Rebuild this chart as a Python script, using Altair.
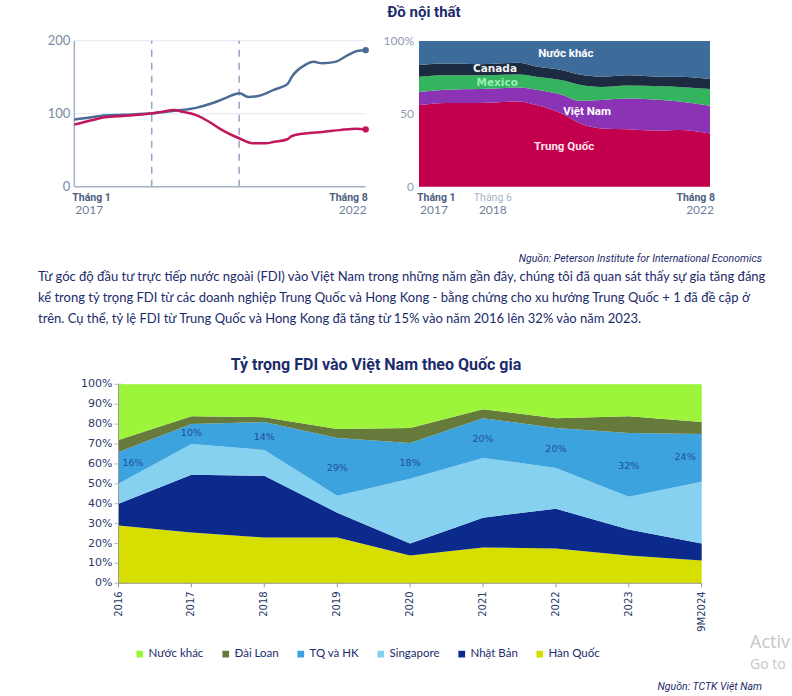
import altair as alt
import pandas as pd

# ---------------- top-left: index (Tháng 1/2017 = month 0 ... Tháng 8/2022 = month 67)
blue_months = [0, 4, 6, 11, 18, 23, 28, 32, 35, 38, 40, 42, 46, 49, 50, 53, 55, 57, 60, 63, 65, 67]
blue_values = [92, 95, 97, 98.5, 100.5, 104, 108, 115, 122, 128, 123, 124, 133, 140.5, 150.5, 166.5, 171, 169, 171, 180.5, 186, 187]
red_months = [0, 4, 7, 11, 15, 18, 20, 23, 25, 28, 31, 34, 38, 41, 44, 46, 49, 50, 53, 57, 61, 65, 67]
red_values = [85, 91, 95, 97, 98.5, 100.5, 102.5, 105, 102.5, 98, 89, 77.5, 66, 59.5, 59.5, 61.5, 65, 69.5, 73, 75, 77.5, 79.5, 78.5]
event_months = [17.8, 37.9]
tl_y_ticks = [0, 100, 200]
tl_x_months = [0, 67]
tl_x_month_labels = ["Tháng 1", "Tháng 8"]
tl_x_year_labels = ["2017", "2022"]

# ---------------- top-right: import shares (%)
tr_months = [0, 6, 14, 23, 27, 33, 37, 42, 48, 56, 60, 67]
tr_series = ["Trung Quốc", "Việt Nam", "Mexico", "Canada", "Nước khác"]
tr_trung_quoc = [56, 57.5, 57.5, 58.5, 56, 50, 43.5, 40, 39.5, 38.5, 39, 36.5]
tr_viet_nam = [9, 9, 9.5, 9.5, 10.5, 13, 15.5, 19.5, 21, 21, 19.5, 19]
tr_mexico = [10.5, 10, 9.5, 9, 9, 10, 11, 9, 9, 9.5, 10, 11.5]
tr_canada = [8, 8, 7.5, 8, 7, 7, 7, 7, 7, 6.5, 7, 7]
tr_khac = [16.5, 15.5, 16, 15, 17.5, 20, 23, 24.5, 23.5, 24.5, 24.5, 26]
tr_colors = ["#c2004d", "#8a33b5", "#34b45e", "#1c2b3f", "#3e6c9a"]
tr_y_ticks = [0, 50, 100]
tr_y_labels = ["0", "50", "100%"]
tr_x_months = [0, 17, 67]
tr_x_month_labels = ["Tháng 1", "Tháng 6", "Tháng 8"]
tr_x_year_labels = ["2017", "2018", "2022"]
tr_ann_text = ["Nước khác", "Canada", "Mexico", "Việt Nam", "Trung Quốc"]
tr_ann_month = [33.8, 17.5, 18, 38.7, 33.4]
tr_ann_pct = [91, 80.5, 71.2, 51.6, 27]
tr_ann_color = ["#ffffff", "#f2f2f2", "#9af0b4", "#ffffff", "#ffe3ec"]

# ---------------- bottom: FDI share by country (%)
years = ["2016", "2017", "2018", "2019", "2020", "2021", "2022", "2023", "9M2024"]
han_quoc = [29, 25.5, 23, 23, 14, 18, 17.5, 14, 11.5]
nhat_ban = [11, 29, 31, 12.5, 6, 15, 20, 13, 8.5]
singapore = [10, 15.5, 13, 8.5, 32.5, 30, 20.5, 16.5, 31]
tq_hk = [16, 10, 14, 29, 18, 20, 20, 32, 24]
dai_loan = [6, 4, 2.5, 4.5, 7.5, 4.5, 5, 8.5, 6]
nuoc_khac = [28, 16, 16.5, 22.5, 22, 12.5, 17, 16, 19]
legend_order = ["Nước khác", "Đài Loan", "TQ và HK", "Singapore", "Nhật Bản", "Hàn Quốc"]
legend_colors = ["#9cf43b", "#667a3c", "#3da3de", "#86d0f0", "#0b2a8c", "#d6de02"]
tq_label_text = ["16%", "10%", "14%", "29%", "18%", "20%", "20%", "32%", "24%"]
tq_label_pos = [60.3, 75.4, 73.4, 58.1, 60.6, 72.5, 67.6, 59.1, 63.3]
b_y_ticks = list(range(0, 101, 10))

# ---------------- page text
title_top = "Đồ nội thất"
source_top = "Nguồn: Peterson Institute for International Economics"
paragraph = [
    "Từ góc độ đầu tư trực tiếp nước ngoài (FDI) vào Việt Nam trong những năm gần đây, chúng tôi đã quan sát thấy sự gia tăng đáng",
    "kể trong tỷ trọng FDI từ các doanh nghiệp Trung Quốc và Hong Kong - bằng chứng cho xu hướng Trung Quốc + 1 đã đề cập ở",
    "trên. Cụ thể, tỷ lệ FDI từ Trung Quốc và Hong Kong đã tăng từ 15% vào năm 2016 lên 32% vào năm 2023.",
]
title_bottom = "Tỷ trọng FDI vào Việt Nam theo Quốc gia"
source_bottom = "Nguồn: TCTK Việt Nam"
watermark = ["Activ", "Go to"]

NARROW = "Roboto"
NAVY = "#1b2b6b"

# ======================= TOP-LEFT =======================
xs_tl = alt.Scale(domain=[0, 67], range=[74.3, 365.7])
ys_tl = alt.Scale(domain=[0, 200], range=[186.7, 40.7])

def X_tl(f):
    return alt.X(f, scale=xs_tl, axis=None)

def Y_tl(f):
    return alt.Y(f, scale=ys_tl, axis=None)

grid_tl = pd.DataFrame({"v": tl_y_ticks[1:], "a": 0, "b": 67})
tl_grid = alt.Chart(grid_tl).mark_rule(color="#e4e9f0", strokeWidth=1).encode(
    x=X_tl("a:Q"), x2="b:Q", y=Y_tl("v:Q"))
yax_tl = pd.DataFrame({"a": [0], "lo": [0], "hi": [200]})
tl_yaxis = alt.Chart(yax_tl).mark_rule(color="#a3b1c5", strokeWidth=1.5).encode(
    x=X_tl("a:Q"), y=Y_tl("lo:Q"), y2="hi:Q")
xax_tl = pd.DataFrame({"a": [0], "b": [67], "v": [0]})
tl_xaxis = alt.Chart(xax_tl).mark_rule(color="#a3b1c5", strokeWidth=1.5).encode(
    x=X_tl("a:Q"), x2="b:Q", y=Y_tl("v:Q"))
ev_tl = pd.DataFrame({"m": event_months, "lo": 0, "hi": 200})
tl_events = alt.Chart(ev_tl).mark_rule(color="#93a6c0", strokeWidth=1.5, strokeDash=[7, 6]).encode(
    x=X_tl("m:Q"), y=Y_tl("lo:Q"), y2="hi:Q")
blue_df = pd.DataFrame({"m": blue_months, "v": blue_values})
red_df = pd.DataFrame({"m": red_months, "v": red_values})
tl_blue = alt.Chart(blue_df).mark_line(color="#4a6b94", strokeWidth=2.5, interpolate="monotone").encode(
    x=X_tl("m:Q"), y=Y_tl("v:Q"))
tl_red = alt.Chart(red_df).mark_line(color="#c2185b", strokeWidth=2.5, interpolate="monotone").encode(
    x=X_tl("m:Q"), y=Y_tl("v:Q"))
tl_blue_end = alt.Chart(blue_df.tail(1)).mark_circle(color="#4a6b94", size=40, opacity=1).encode(
    x=X_tl("m:Q"), y=Y_tl("v:Q"))
tl_red_end = alt.Chart(red_df.tail(1)).mark_circle(color="#c2185b", size=40, opacity=1).encode(
    x=X_tl("m:Q"), y=Y_tl("v:Q"))
ylab_tl = pd.DataFrame({"v": tl_y_ticks, "a": 0, "t": [str(t) for t in tl_y_ticks]})
tl_ylabels = alt.Chart(ylab_tl).mark_text(align="right", baseline="middle", dx=-4, font="Lato",
                                          fontSize=13, color="#7a8aa3").encode(
    x=X_tl("a:Q"), y=Y_tl("v:Q"), text="t:N")
xlab_tl = pd.DataFrame({"m": tl_x_months, "t1": tl_x_month_labels, "t2": tl_x_year_labels, "v": 0})
MONTH_KW = dict(baseline="middle", dy=11, font=NARROW, fontSize=10.5, fontWeight="bold", color="#4d6080")
YEAR_KW = dict(baseline="middle", dy=23.5, font="Lato", fontSize=12, color="#6f7f99")
tl_xl1a = alt.Chart(xlab_tl.head(1)).mark_text(align="left", dx=-2, **MONTH_KW).encode(
    x=X_tl("m:Q"), y=Y_tl("v:Q"), text="t1:N")
tl_xl1b = alt.Chart(xlab_tl.tail(1)).mark_text(align="right", dx=2, **MONTH_KW).encode(
    x=X_tl("m:Q"), y=Y_tl("v:Q"), text="t1:N")
tl_xl2a = alt.Chart(xlab_tl.head(1)).mark_text(align="left", dx=1, **YEAR_KW).encode(
    x=X_tl("m:Q"), y=Y_tl("v:Q"), text="t2:N")
tl_xl2b = alt.Chart(xlab_tl.tail(1)).mark_text(align="right", dx=1, **YEAR_KW).encode(
    x=X_tl("m:Q"), y=Y_tl("v:Q"), text="t2:N")
top_left = alt.layer(tl_grid, tl_events, tl_yaxis, tl_xaxis, tl_blue, tl_red, tl_blue_end, tl_red_end,
                     tl_ylabels, tl_xl1a, tl_xl1b, tl_xl2a, tl_xl2b)

# ======================= TOP-RIGHT =======================
xs_tr = alt.Scale(domain=[0, 67], range=[419, 710])
ys_tr = alt.Scale(domain=[0, 100], range=[186.7, 41])

def X_tr(f):
    return alt.X(f, scale=xs_tr, axis=None)

def Y_tr(f):
    return alt.Y(f, scale=ys_tr, axis=None)

tr_vals = [tr_trung_quoc, tr_viet_nam, tr_mexico, tr_canada, tr_khac]
rows = []
for k, (name, vals) in enumerate(zip(tr_series, tr_vals)):
    for m, v in zip(tr_months, vals):
        rows.append({"m": m, "series": name, "v": v, "k": k})
tr_df = pd.DataFrame(rows)
tr_area = alt.Chart(tr_df).mark_area(interpolate="monotone", opacity=1).encode(
    x=X_tr("m:Q"),
    y=alt.Y("v:Q", stack="zero", scale=ys_tr, axis=None),
    color=alt.Color("series:N", scale=alt.Scale(domain=tr_series, range=tr_colors), legend=None),
    order=alt.Order("k:Q", sort="ascending"),
)
ann_df = pd.DataFrame({"m": tr_ann_month, "p": tr_ann_pct, "t": tr_ann_text, "c": tr_ann_color})
tr_ann_narrow = alt.Chart(ann_df.iloc[[0, 3, 4]]).mark_text(font=NARROW, fontSize=11.5, fontWeight="bold").encode(
    x=X_tr("m:Q"), y=Y_tr("p:Q"), text="t:N", color=alt.Color("c:N", scale=None))
tr_ann_wide = alt.Chart(ann_df.iloc[[1, 2]]).mark_text(font="DejaVu Sans", fontSize=10.5, fontWeight="bold").encode(
    x=X_tr("m:Q"), y=Y_tr("p:Q"), text="t:N", color=alt.Color("c:N", scale=None))
ylab_tr = pd.DataFrame({"v": tr_y_ticks, "a": 0, "t": tr_y_labels})
tr_ylabels = alt.Chart(ylab_tr).mark_text(align="right", baseline="middle", dx=-5, font="Lato",
                                          fontSize=12, color="#8d9bb0").encode(
    x=X_tr("a:Q"), y=Y_tr("v:Q"), text="t:N")
xlab_tr = pd.DataFrame({"m": tr_x_months, "t1": tr_x_month_labels, "t2": tr_x_year_labels, "v": 0})
tr_xl1a = alt.Chart(xlab_tr.iloc[[0]]).mark_text(align="left", dx=-2, **MONTH_KW).encode(
    x=X_tr("m:Q"), y=Y_tr("v:Q"), text="t1:N")
tr_xl1m = alt.Chart(xlab_tr.iloc[[1]]).mark_text(
    align="center", baseline="middle", dy=11, font=NARROW, fontSize=10.5, color="#a7b3c5").encode(
    x=X_tr("m:Q"), y=Y_tr("v:Q"), text="t1:N")
tr_xl1b = alt.Chart(xlab_tr.iloc[[2]]).mark_text(align="right", dx=5, **MONTH_KW).encode(
    x=X_tr("m:Q"), y=Y_tr("v:Q"), text="t1:N")
tr_xl2a = alt.Chart(xlab_tr.iloc[[0]]).mark_text(align="left", dx=1, **YEAR_KW).encode(
    x=X_tr("m:Q"), y=Y_tr("v:Q"), text="t2:N")
tr_xl2m = alt.Chart(xlab_tr.iloc[[1]]).mark_text(align="center", **YEAR_KW).encode(
    x=X_tr("m:Q"), y=Y_tr("v:Q"), text="t2:N")
tr_xl2b = alt.Chart(xlab_tr.iloc[[2]]).mark_text(align="right", dx=4, **YEAR_KW).encode(
    x=X_tr("m:Q"), y=Y_tr("v:Q"), text="t2:N")
top_right = alt.layer(tr_area, tr_ann_narrow, tr_ann_wide, tr_ylabels,
                      tr_xl1a, tr_xl1m, tr_xl1b, tr_xl2a, tr_xl2m, tr_xl2b)

# ======================= BOTTOM =======================
xs_b = alt.Scale(type="point", domain=years, range=[118.5, 701.7], padding=0)
ys_b = alt.Scale(domain=[0, 100], range=[583.3, 384.3])

def X_b(f):
    return alt.X(f, scale=xs_b, sort=years, axis=None)

def Y_b(f):
    return alt.Y(f, scale=ys_b, axis=None)

stack_order = ["Hàn Quốc", "Nhật Bản", "Singapore", "TQ và HK", "Đài Loan", "Nước khác"]
series_vals = {"Hàn Quốc": han_quoc, "Nhật Bản": nhat_ban, "Singapore": singapore,
               "TQ và HK": tq_hk, "Đài Loan": dai_loan, "Nước khác": nuoc_khac}
rows = []
for k, name in enumerate(stack_order):
    for y, v in zip(years, series_vals[name]):
        rows.append({"year": y, "series": name, "v": v, "k": k})
b_df = pd.DataFrame(rows)
AX_FONT = "DejaVu Sans"
AX_COLOR = "#2a3a6a"
LINE_COLOR = "#9a9a9a"

ytick_df = pd.DataFrame({"year": years[0], "v": b_y_ticks, "t": [f"{t}%" for t in b_y_ticks]})
b_yticks = alt.Chart(ytick_df).mark_tick(color=LINE_COLOR, size=8, thickness=1).encode(
    x=X_b("year:O"), y=Y_b("v:Q"))
b_area = alt.Chart(b_df).mark_area(opacity=1).encode(
    x=X_b("year:O"),
    y=alt.Y("v:Q", stack="zero", scale=ys_b, axis=None),
    color=alt.Color("series:N", scale=alt.Scale(domain=legend_order, range=legend_colors),
                    legend=alt.Legend(orient="none", legendX=134, legendY=648, direction="horizontal",
                                      title=None, symbolType="square", symbolSize=45, symbolStrokeWidth=0,
                                      labelFont="Lato", labelFontSize=11.5, labelColor=NAVY,
                                      columnPadding=16, labelOffset=3)),
    order=alt.Order("k:Q", sort="ascending"),
)
yaxis_df = pd.DataFrame({"year": [years[0]], "lo": [0], "hi": [100]})
b_yaxis = alt.Chart(yaxis_df).mark_rule(color=LINE_COLOR, strokeWidth=1).encode(
    x=X_b("year:O"), y=Y_b("lo:Q"), y2="hi:Q")
xaxis_df = pd.DataFrame({"a": [years[0]], "b": [years[-1]], "v": [0]})
b_xaxis = alt.Chart(xaxis_df).mark_rule(color=LINE_COLOR, strokeWidth=1).encode(
    x=X_b("a:O"), x2="b:O", y=Y_b("v:Q"))
xtick_df = pd.DataFrame({"year": years, "lo": 0, "hi": -2})
b_xticks = alt.Chart(xtick_df).mark_rule(color=LINE_COLOR, strokeWidth=1).encode(
    x=X_b("year:O"), y=Y_b("lo:Q"), y2="hi:Q")
b_ylabels = alt.Chart(ytick_df).mark_text(align="right", baseline="middle", dx=-6, font=AX_FONT,
                                          fontSize=11, color=AX_COLOR).encode(
    x=X_b("year:O"), y=Y_b("v:Q"), text="t:N")
xlab_df = pd.DataFrame({"year": years, "v": 0})
b_xlabels = alt.Chart(xlab_df).mark_text(align="right", baseline="middle", angle=270, dx=-8, font=AX_FONT,
                                         fontSize=10, color=AX_COLOR).encode(
    x=X_b("year:O"), y=Y_b("v:Q"), text="year:N")
lab_df = pd.DataFrame({"year": years, "p": tq_label_pos, "t": tq_label_text})
lab_kw = dict(font=AX_FONT, fontSize=9.5, color="#1f4e9c", baseline="middle")
b_lab_first = alt.Chart(lab_df.iloc[[0]]).mark_text(align="left", dx=4, **lab_kw).encode(
    x=X_b("year:O"), y=Y_b("p:Q"), text="t:N")
b_lab_mid = alt.Chart(lab_df.iloc[1:-1]).mark_text(align="center", **lab_kw).encode(
    x=X_b("year:O"), y=Y_b("p:Q"), text="t:N")
b_lab_last = alt.Chart(lab_df.iloc[[-1]]).mark_text(align="right", dx=-6, **lab_kw).encode(
    x=X_b("year:O"), y=Y_b("p:Q"), text="t:N")
bottom = alt.layer(b_yticks, b_area, b_yaxis, b_xaxis, b_xticks, b_ylabels, b_xlabels,
                   b_lab_first, b_lab_mid, b_lab_last)

# ======================= PAGE TEXT =======================
one = pd.DataFrame({"i": [0]})

def page_text(txt, x, y, **kw):
    return alt.Chart(one).mark_text(**kw).encode(x=alt.value(x), y=alt.value(y), text=alt.value(txt))

t_title_top = page_text(title_top, 424, 12, font=NARROW, fontSize=15, fontWeight="bold", color=NAVY,
                        align="center", baseline="middle")
t_source_top = page_text(source_top, 762, 259, font=NARROW, fontSize=10.5, fontStyle="italic", color=NAVY,
                         align="right", baseline="middle")
t_par = page_text("\n".join(paragraph), 38, 276.5, font="Lato", fontSize=13, color=NAVY, align="left",
                  baseline="middle", lineBreak="\n", lineHeight=21)
t_title_bottom = page_text(title_bottom, 376, 365, font=NARROW, fontSize=16, fontWeight="bold", color=NAVY,
                           align="center", baseline="middle")
t_source_bottom = page_text(source_bottom, 762, 687, font=NARROW, fontSize=10.5, fontStyle="italic", color=NAVY,
                            align="right", baseline="middle")
t_wm1 = page_text(watermark[0], 750, 643, font="Open Sans", fontSize=18, color="#c6c6c6", align="left",
                  baseline="middle")
t_wm2 = page_text(watermark[1], 750, 665, font="Open Sans", fontSize=14, color="#c6c6c6", align="left",
                  baseline="middle")

chart = alt.layer(
    top_left, top_right, bottom,
    t_title_top, t_source_top, t_par, t_title_bottom, t_source_bottom, t_wm1, t_wm2,
).resolve_scale(x="independent", y="independent", color="independent").properties(
    width=792, height=696, autosize=alt.AutoSizeParams(type="none"), padding=0, background="white",
).configure_view(stroke=None)

chart.save("out.html", embed_options={"renderer": "svg", "actions": False})
